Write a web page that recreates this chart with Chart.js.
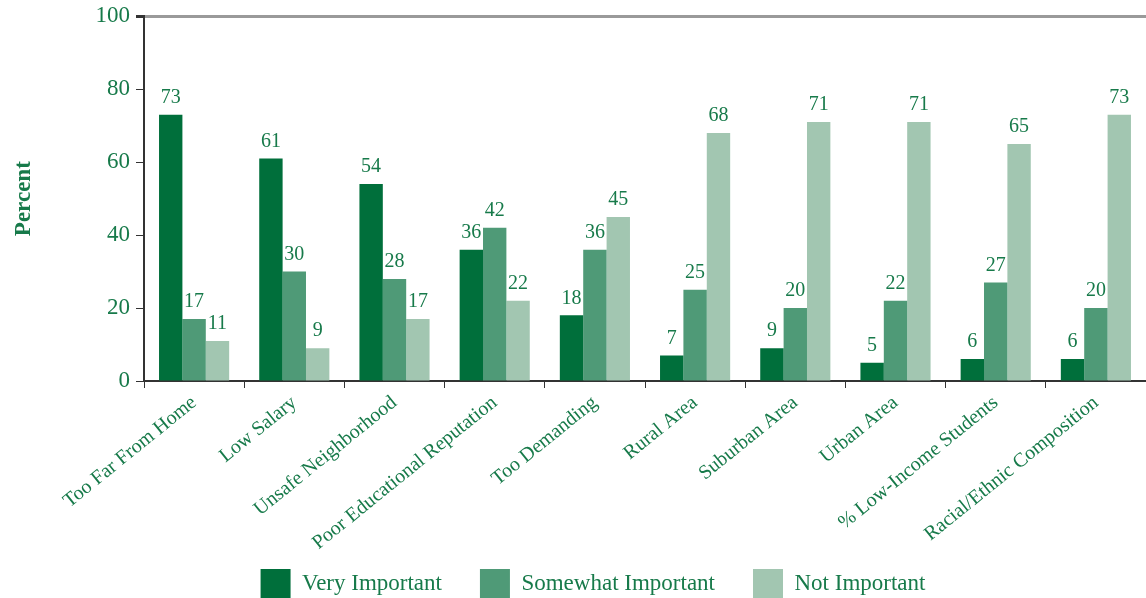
<!DOCTYPE html>
<html>
<head>
<meta charset="utf-8">
<script src="https://cdn.jsdelivr.net/npm/chart.js@4.4.1/dist/chart.umd.min.js"></script>
<style>
  html, body { margin: 0; padding: 0; background: #ffffff; }
  #wrap { position: relative; width: 1146px; height: 598px; overflow: hidden; }
  canvas { display: block; }
</style>
</head>
<body>
<div id="wrap"><canvas id="c" width="1146" height="598"></canvas></div>
<script>
const categories = ["Too Far From Home", "Low Salary", "Unsafe Neighborhood", "Poor Educational Reputation", "Too Demanding", "Rural Area", "Suburban Area", "Urban Area", "% Low-Income Students", "Racial/Ethnic Composition"];
const veryImportant = [73, 61, 54, 36, 18, 7, 9, 5, 6, 6];
const somewhatImportant = [17, 30, 28, 42, 36, 25, 20, 22, 27, 20];
const notImportant = [11, 9, 17, 22, 45, 68, 71, 71, 65, 73];
const yTicks = [0, 20, 40, 60, 80, 100];

const GREEN_TEXT = '#177a4a';
const SERIF = '"Liberation Serif", "DejaVu Serif", serif';

const valueLabels = {
  id: 'valueLabels',
  afterDatasetsDraw(chart) {
    const ctx = chart.ctx;
    ctx.save();
    ctx.font = '20px ' + SERIF;
    ctx.fillStyle = GREEN_TEXT;
    ctx.textAlign = 'center';
    ctx.textBaseline = 'bottom';
    chart.data.datasets.forEach((ds, i) => {
      const meta = chart.getDatasetMeta(i);
      meta.data.forEach((bar, j) => {
        ctx.fillText(String(ds.data[j]), bar.x, bar.y - 7);
      });
    });
    ctx.restore();
  }
};

const layoutTweak = {
  id: 'layoutTweak',
  afterLayout(chart) {
    const lg = chart.legend;
    if (lg) {
      lg.left += 20; lg.right += 20;
      lg.top += 11; lg.bottom += 11;
    }
    // let the rotated category labels extend below the scale box (no clipping)
    if (chart.scales.x) chart.scales.x.bottom = chart.height;
  }
};

new Chart(document.getElementById('c'), {
  type: 'bar',
  data: {
    labels: categories,
    datasets: [
      { label: 'Very Important', data: veryImportant, backgroundColor: '#006f3b', borderColor: '#006f3b', borderWidth: 0 },
      { label: 'Somewhat Important', data: somewhatImportant, backgroundColor: '#4f9a77', borderColor: '#4f9a77', borderWidth: 0 },
      { label: 'Not Important', data: notImportant, backgroundColor: '#a2c6b1', borderColor: '#a2c6b1', borderWidth: 0 }
    ]
  },
  options: {
    responsive: false,
    animation: false,
    devicePixelRatio: 1,
    layout: { padding: { top: 6, right: 0, left: 0, bottom: 0 } },
    datasets: { bar: { categoryPercentage: 0.7, barPercentage: 1.0 } },
    scales: {
      x: {
        grid: { display: true, offset: true, drawOnChartArea: false, drawTicks: true, tickLength: 7, color: '#333333', lineWidth: 1 },
        border: { display: true, color: '#333333', width: 2 },
        ticks: {
          color: GREEN_TEXT,
          font: { family: SERIF, size: 20 },
          minRotation: 39, maxRotation: 39,
          autoSkip: false,
          padding: 3
        },
        afterFit(scale) { scale.height = 139; }
      },
      y: {
        min: 0, max: 100,
        afterBuildTicks(scale) { scale.ticks = yTicks.map(v => ({ value: v })); },
        grid: {
          display: true,
          drawOnChartArea: true,
          drawTicks: true,
          tickLength: 8,
          tickColor: '#333333',
          color: (c) => (c.tick && c.tick.value === 100 ? '#9a9a9a' : 'rgba(0,0,0,0)'),
          lineWidth: (c) => (c.tick && c.tick.value === 100 ? 3 : 1)
        },
        border: { display: true, color: '#333333', width: 2 },
        ticks: {
          color: GREEN_TEXT,
          font: { family: SERIF, size: 23, lineHeight: 0.9 },
          padding: 6
        },
        title: {
          display: true,
          text: 'Percent',
          color: GREEN_TEXT,
          font: { family: SERIF, size: 23, weight: 'bold' },
          padding: { top: 10, bottom: 0 }
        },
        afterFit(scale) { scale.width = 144; }
      }
    },
    plugins: {
      legend: {
        position: 'bottom',
        labels: {
          color: GREEN_TEXT,
          font: { family: SERIF, size: 23 },
          boxWidth: 30,
          boxHeight: 30,
          padding: 38
        }
      },
      tooltip: { enabled: false },
      title: { display: false }
    }
  },
  plugins: [valueLabels, layoutTweak]
});
</script>
</body>
</html>
